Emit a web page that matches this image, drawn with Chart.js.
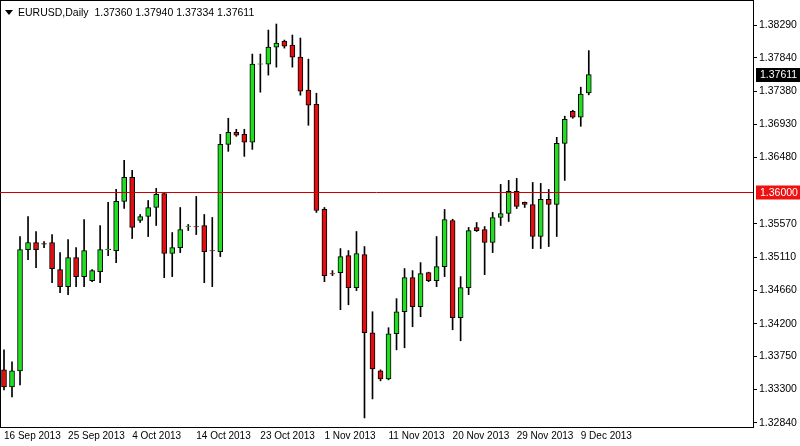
<!DOCTYPE html>
<html>
<head>
<meta charset="utf-8">
<script src="https://cdn.jsdelivr.net/npm/chart.js@4"></script>
<style>
  html, body { margin: 0; padding: 0; background: #fff; }
  #wrap { width: 800px; height: 446px; position: relative; }
  #title { position: absolute; left: 18px; top: 6px; font: 10.5px "Liberation Sans", sans-serif; color: #000; }
  #tri { position: absolute; left: 5px; top: 10px; width: 0; height: 0;
         border-left: 4px solid transparent; border-right: 4px solid transparent; border-top: 5px solid #000; }
</style>
</head>
<body>
<div id="wrap">
  <canvas id="c" width="800" height="446"></canvas>
  <div id="tri"></div>
  <div id="title">EURUSD,Daily&nbsp; 1.37360 1.37940 1.37334 1.37611</div>
</div>
<script>
// ── Data ──────────────────────────────────────────────────
const opens  = [1.33567,1.33333,1.33553,1.35214,1.35311,1.35297,1.35311,1.34940,1.34706,1.35105,
                1.34844,1.34789,1.34912,1.35214,1.35201,1.35874,1.36203,1.35613,1.35668,1.35791,
                1.35983,1.35160,1.35242,1.35530,1.35530,1.35544,1.35201,1.35187,1.36656,1.36821,
                1.36793,1.36684,1.37755,1.37755,1.37988,1.38070,1.38015,1.37851,1.37398,1.37205,
                1.35764,1.34885,1.34899,1.35132,1.34693,1.35146,1.34075,1.33553,1.33443,1.34061,
                1.34363,1.34830,1.34432,1.34899,1.34789,1.34981,1.35613,1.34281,1.34693,1.35517,
                1.35489,1.35311,1.35654,1.35709,1.36011,1.35860,1.35832,1.35393,1.35901,1.35832,
                1.36670,1.37109,1.37027,1.37360];
const highs  = [1.33841,1.33677,1.35393,1.35668,1.35462,1.35324,1.35420,1.35173,1.35352,1.35242,
                1.35626,1.34940,1.35544,1.35860,1.36038,1.36436,1.36299,1.35695,1.35887,1.36052,
                1.35990,1.35448,1.35791,1.35558,1.35942,1.35695,1.35654,1.36793,1.37013,1.36862,
                1.36862,1.37892,1.37892,1.38221,1.38304,1.38084,1.38153,1.38112,1.37823,1.37356,
                1.35791,1.34926,1.35228,1.35201,1.35462,1.35256,1.34363,1.33567,1.34144,1.34542,
                1.34954,1.34926,1.35036,1.34905,1.35393,1.35764,1.35630,1.34844,1.35517,1.35585,
                1.35530,1.35723,1.36107,1.36162,1.36189,1.35866,1.36134,1.36121,1.36038,1.36752,
                1.37041,1.37123,1.37439,1.37940];
const lows   = [1.33292,1.33196,1.33361,1.35077,1.34967,1.35242,1.34761,1.34624,1.34597,1.34706,
                1.34706,1.34775,1.34761,1.35132,1.35036,1.35777,1.35366,1.35585,1.35393,1.35544,
                1.34830,1.34844,1.35173,1.35475,1.35420,1.34761,1.34706,1.35118,1.36560,1.36766,
                1.36491,1.36587,1.37370,1.37604,1.37713,1.37974,1.37713,1.37329,1.36917,1.35723,
                1.34775,1.34858,1.34391,1.34459,1.34652,1.32908,1.33169,1.33416,1.33430,1.33841,
                1.33869,1.34157,1.34295,1.34775,1.34706,1.34844,1.34116,1.33965,1.34597,1.35462,
                1.34871,1.35173,1.35544,1.35599,1.35777,1.35791,1.35228,1.35228,1.35256,1.35393,
                1.36162,1.37013,1.36903,1.37334];
const closes = [1.33333,1.33553,1.35214,1.35311,1.35214,1.35290,1.34954,1.34706,1.35105,1.34844,
                1.35201,1.34926,1.35214,1.35220,1.35874,1.36203,1.35517,1.35668,1.35791,1.35970,
                1.35160,1.35242,1.35489,1.35535,1.35525,1.35187,1.35195,1.36656,1.36821,1.36780,
                1.36684,1.37755,1.37760,1.37988,1.38043,1.38002,1.37851,1.37384,1.37192,1.35750,
                1.34858,1.34880,1.35118,1.34693,1.35160,1.34075,1.33581,1.33443,1.34061,1.34363,
                1.34830,1.34432,1.34885,1.34789,1.34981,1.35626,1.34281,1.34693,1.35475,1.35475,
                1.35311,1.35654,1.35709,1.36011,1.35805,1.35832,1.35393,1.35901,1.35832,1.36670,
                1.36999,1.37027,1.37343,1.37611];
// one label every 8 bars, empty slots to the right of the last bar
const dateLabels = ['16 Sep 2013','25 Sep 2013','4 Oct 2013','14 Oct 2013','23 Oct 2013',
                    '1 Nov 2013','11 Nov 2013','20 Nov 2013','29 Nov 2013','9 Dec 2013'];
const priceTicks = [1.38290,1.37840,1.37380,1.36930,1.36480,1.35570,1.35110,1.34660,1.34200,1.33750,1.33300,1.32840];
const levelLine  = 1.36000;
const lastPrice  = 1.37611;
const SLOTS = 94;

const labels = [];
for (let i = 0; i < SLOTS; i++) labels.push(i % 8 === 0 && dateLabels[i / 8] ? dateLabels[i / 8] : '');

const wicks  = lows.map((l, i) => [l, highs[i]]);
const bodies = opens.map((o, i) => o === closes[i] ? [o, o + 0.00004] : [o, closes[i]]);
const bodyColors = opens.map((o, i) => closes[i] >= o ? '#22dd22' : '#dd1111');

const FONT = '10.5px "Liberation Sans", sans-serif';

// ── Overlay: frame, level line, price boxes ───────────────
const overlay = {
  id: 'overlay',
  afterDraw(chart) {
    const { ctx, chartArea: a, scales: { y } } = chart;
    ctx.save();
    ctx.strokeStyle = '#000'; ctx.lineWidth = 1;
    ctx.strokeRect(a.left + 0.5, a.top + 0.5, a.right - a.left, a.bottom - a.top);
    const ly = Math.round(y.getPixelForValue(levelLine)) + 0.5;
    ctx.strokeStyle = '#d00000';
    ctx.beginPath(); ctx.moveTo(a.left, ly); ctx.lineTo(a.right, ly); ctx.stroke();
    ctx.font = FONT;
    ctx.textBaseline = 'middle';
    ctx.fillStyle = '#ee1111';
    ctx.fillRect(a.right + 3, ly - 7, 44, 14);
    ctx.fillStyle = '#fff';
    ctx.fillText(levelLine.toFixed(5), a.right + 7, ly + 0.5);
    const py = Math.round(y.getPixelForValue(lastPrice));
    ctx.fillStyle = '#000';
    ctx.fillRect(a.right + 3, py - 7, 44, 14);
    ctx.fillStyle = '#fff';
    ctx.fillText(lastPrice.toFixed(5), a.right + 7, py + 0.5);
    ctx.restore();
  }
};

new Chart(document.getElementById('c'), {
  type: 'bar',
  data: {
    labels,
    datasets: [
      { data: bodies, backgroundColor: bodyColors, borderColor: '#000', borderWidth: 1,
        borderSkipped: false, barThickness: 5, order: 0 },
      { data: wicks, backgroundColor: '#000', borderWidth: 0, barThickness: 1, order: 1 }
    ]
  },
  options: {
    responsive: false,
    animation: false,
    layout: { padding: 0 },
    plugins: { legend: { display: false }, tooltip: { enabled: false } },
    datasets: { bar: { grouped: false } },
    scales: {
      x: {
        offset: true,
        grid: { display: false, drawTicks: false },
        border: { display: false },
        ticks: { autoSkip: false, maxRotation: 0, align: 'start', color: '#000', padding: 3,
                 font: { family: 'Liberation Sans', size: 10 } },
        afterFit(s) { s.height = 19; s.paddingLeft = 0; s.paddingRight = 0; }
      },
      y: {
        position: 'right',
        min: 1.32784, max: 1.38633,
        grid: { drawOnChartArea: false, color: '#000', tickLength: 4 },
        border: { display: false },
        afterBuildTicks(s) { s.ticks = priceTicks.map(v => ({ value: v })); },
        ticks: { color: '#000', padding: 2, font: { family: 'Liberation Sans', size: 10.5 },
                 callback: v => v.toFixed(5) },
        afterFit(s) { s.width = 47; s.paddingTop = 0; s.paddingBottom = 0; }
      }
    }
  },
  plugins: [overlay]
});
</script>
</body>
</html>
